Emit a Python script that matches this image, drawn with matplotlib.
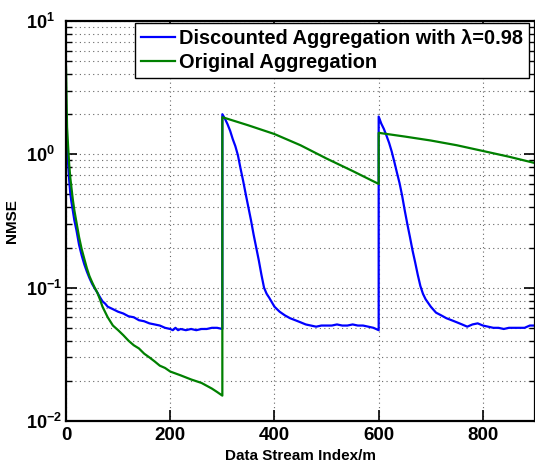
import numpy as np
import matplotlib
matplotlib.use("Agg")
import matplotlib.pyplot as plt
from matplotlib.ticker import FixedLocator, LogLocator, FuncFormatter, NullFormatter

plt.rcParams['font.family'] = ['Liberation Sans', 'DejaVu Sans']
plt.rcParams['font.weight'] = 'bold'
plt.rcParams['mathtext.fontset'] = 'custom'
plt.rcParams['mathtext.rm'] = 'Liberation Sans:bold'
plt.rcParams['mathtext.bf'] = 'Liberation Sans:bold'

# discounted aggregation (lambda = 0.98)
x_disc = [0, 2, 4, 6, 8, 10, 13, 16, 20, 25, 30, 35, 40, 45, 50, 55, 60, 65, 70, 75, 80,
          90, 100, 110, 120, 130, 140, 150, 160, 170, 180, 190, 200, 205, 210, 215, 220,
          230, 240, 250, 260, 270, 280, 290, 300,
          300, 305, 310, 315, 320, 325, 330, 335, 340, 345, 350, 355, 360, 365, 370, 375,
          380, 385, 390, 400, 410, 420, 430, 440, 450, 460, 470, 480, 490, 500, 510, 520,
          530, 540, 550, 560, 570, 580, 590, 595, 600,
          600, 605, 610, 615, 620, 625, 630, 635, 640, 645, 650, 655, 660, 665, 670, 675,
          680, 685, 690, 700, 710, 720, 730, 740, 750, 760, 770, 780, 790, 800, 810, 820,
          830, 840, 850, 860, 870, 880, 890, 900]
y_disc = [2.0, 1.2, 0.85, 0.65, 0.52, 0.45, 0.38, 0.32, 0.27, 0.21, 0.175, 0.15, 0.132,
          0.118, 0.107, 0.099, 0.092, 0.085, 0.079, 0.076, 0.072,
          0.069, 0.066, 0.064, 0.061, 0.06, 0.057, 0.056, 0.054, 0.053, 0.052, 0.05, 0.049,
          0.048, 0.05, 0.048, 0.049, 0.048, 0.049, 0.048, 0.049, 0.049, 0.05, 0.05, 0.049,
          2.0, 1.85, 1.68, 1.5, 1.3, 1.15, 0.98, 0.78, 0.63, 0.5, 0.4, 0.32, 0.25, 0.2, 0.16,
          0.125, 0.1, 0.09, 0.084, 0.072, 0.066, 0.062, 0.059, 0.057, 0.055, 0.053, 0.052,
          0.051, 0.052, 0.052, 0.052, 0.053, 0.052, 0.052, 0.053, 0.052, 0.052, 0.051, 0.05,
          0.049, 0.048,
          1.92, 1.7, 1.55, 1.38, 1.22, 1.05, 0.88, 0.73, 0.61, 0.49, 0.38, 0.3, 0.24, 0.19,
          0.155, 0.125, 0.103, 0.09, 0.082, 0.072, 0.065, 0.062, 0.059, 0.057, 0.055, 0.053,
          0.051, 0.053, 0.054, 0.052, 0.051, 0.05, 0.05, 0.049, 0.05, 0.05, 0.05, 0.05,
          0.052, 0.052]

# original aggregation
x_orig = [0, 2, 4, 6, 8, 10, 13, 16, 20, 25, 30, 35, 40, 45, 50, 55, 60, 65, 70, 80, 90,
          100, 110, 120, 130, 140, 150, 160, 170, 180, 190, 200, 220, 240, 260, 280, 290, 300,
          300, 350, 400, 450, 500, 550, 600,
          600, 650, 700, 750, 800, 850, 900]
y_orig = [4.5, 1.6, 1.15, 0.85, 0.68, 0.58, 0.46, 0.38, 0.31, 0.24, 0.195, 0.165, 0.14,
          0.122, 0.11, 0.1, 0.092, 0.082, 0.072, 0.06, 0.052,
          0.048, 0.044, 0.04, 0.037, 0.035, 0.032, 0.03, 0.028, 0.026, 0.025, 0.0235, 0.022,
          0.0205, 0.0193, 0.0175, 0.0165, 0.0155,
          1.9, 1.65, 1.42, 1.17, 0.93, 0.75, 0.6,
          1.45, 1.36, 1.27, 1.17, 1.06, 0.96, 0.86]

fig = plt.figure(figsize=(5.35, 4.68), dpi=100)
ax = fig.add_axes([0.1234, 0.1004, 0.8766, 0.8547])

ax.semilogy(x_disc, y_disc, color='#0000ff', lw=1.6,
            label='Discounted Aggregation with λ=0.98')
ax.semilogy(x_orig, y_orig, color='#008000', lw=1.6, label='Original Aggregation')

ax.set_xlim(0, 900)
ax.set_ylim(1e-2, 1e1)
ax.xaxis.set_major_locator(FixedLocator([0, 200, 400, 600, 800]))
ax.yaxis.set_major_locator(LogLocator(base=10, numticks=10))
ax.yaxis.set_minor_locator(LogLocator(base=10, subs=np.arange(2, 10), numticks=20))
ax.yaxis.set_minor_formatter(NullFormatter())
ax.yaxis.set_major_formatter(FuncFormatter(
    lambda v, p: r'$\mathbf{10^{%d}}$' % round(np.log10(v))))

ax.tick_params(which='both', direction='in', top=True, right=True)
ax.tick_params(axis='x', labelsize=13.5, pad=4)
ax.tick_params(axis='y', labelsize=13, pad=28.8)
ax.tick_params(which='major', length=8, width=1.2)
ax.tick_params(which='minor', length=4.5, width=1.0)
for lab in ax.get_yticklabels():
    lab.set_horizontalalignment('left')
for s in ax.spines.values():
    s.set_linewidth(1.6)

ax.grid(True, which='major', axis='x', color='#666666', linestyle=(0, (1, 3)), lw=0.8)
ax.grid(True, which='both', axis='y', color='#666666', linestyle=(0, (1, 3)), lw=0.8)

ax.set_xlabel('Data Stream Index/m', fontsize=11, fontweight='bold', labelpad=4)
ax.set_ylabel('NMSE', fontsize=11, fontweight='bold', labelpad=5)

leg = ax.legend(loc='upper right', bbox_to_anchor=(0.988, 0.995), borderaxespad=0,
                fancybox=False, framealpha=1, edgecolor='black',
                handlelength=1.7, handletextpad=0.2, labelspacing=0.25, borderpad=0.3,
                prop={'weight': 'bold', 'size': 14.4})
leg.get_frame().set_linewidth(1.0)

fig.savefig('out.png', dpi=100)
